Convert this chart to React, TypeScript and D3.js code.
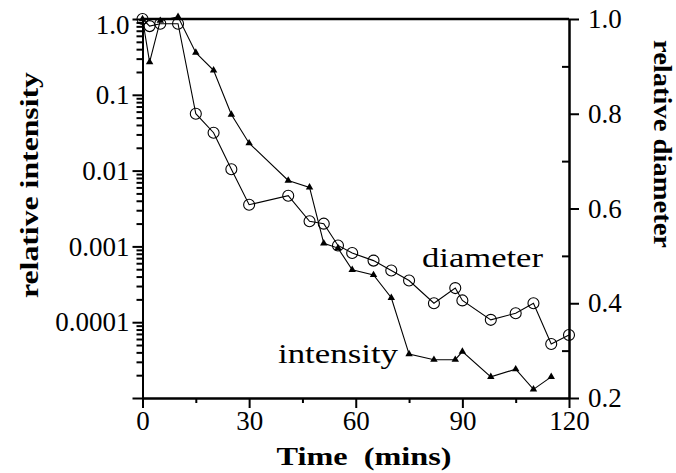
import React, { useRef, useEffect } from "react";
import { select, scaleLinear, scaleLog, axisLeft, axisRight, axisBottom, line, symbol, symbolTriangle } from "d3";

// time points (mins)
const timeI = [0, 2, 5, 10, 15, 20, 25, 30, 41, 47, 51, 55, 59, 65, 70, 75, 82, 88, 90, 98, 105, 110, 115];
const intensity = [1.0, 0.27, 0.95, 1.07, 0.36, 0.21, 0.055, 0.023, 0.0074, 0.006, 0.0011, 0.00095, 0.00049, 0.00042, 0.00021,
  0.000038, 0.000032, 0.000032, 0.000041, 0.000019, 0.000024, 0.000013, 0.000019];

const timeD = [0, 2, 5, 10, 15, 20, 25, 30, 41, 47, 51, 55, 59, 65, 70, 75, 82, 88, 90, 98, 105, 110, 115, 120];
const diameter = [1.0, 0.985, 0.99, 0.99, 0.8, 0.76, 0.683, 0.608, 0.627, 0.573, 0.568, 0.522, 0.506, 0.49, 0.469, 0.448,
  0.4, 0.432, 0.406, 0.365, 0.379, 0.4, 0.314, 0.333];

const xTicks = [0, 30, 60, 90, 120];
const xMinor = [15, 45, 75, 105];
const logTicks = [1e-5, 1e-4, 1e-3, 1e-2, 1e-1, 1];
const logLabels = ["", "0.0001", "0.001", "0.01", "0.1", "1.0"];
const dTicks = [0.2, 0.4, 0.6, 0.8, 1.0];
const dMinor = [0.3, 0.5, 0.7, 0.9];

const W = 676, H = 473;
const left = 142.5, right = 569, top = 19, bottom = 398;
const serif = "'Liberation Serif', 'Times New Roman', serif";

export default function App() {
  const svgRef = useRef<SVGSVGElement>(null);

  useEffect(() => {
    const svg = select(svgRef.current);
    svg.selectAll("*").remove();

    const x = scaleLinear().domain([0, 120]).range([left, right]);
    const yI = scaleLog().domain([1e-5, 1]).range([bottom, top]);
    const yD = scaleLinear().domain([0.2, 1]).range([bottom, top]);

    const logMinor: number[] = [];
    for (let e = -5; e < 0; e++) for (let m = 2; m <= 9; m++) logMinor.push(m * Math.pow(10, e));

    const styleAxis = (g: any) => {
      g.selectAll("path").attr("stroke", "#000").attr("stroke-width", 2);
      g.selectAll("line").attr("stroke", "#000").attr("stroke-width", 2);
      g.selectAll("text").attr("font-family", serif).attr("font-size", 27).attr("fill", "#000");
    };

    // left log axis
    svg.append("g").attr("transform", `translate(${left},0)`)
      .call(axisLeft(yI).tickValues(logMinor).tickSize(6).tickSizeOuter(0).tickFormat(() => ""))
      .call(styleAxis);
    svg.append("g").attr("transform", `translate(${left},0)`)
      .call(axisLeft(yI).tickValues(logTicks).tickSize(10).tickSizeOuter(0).tickPadding(3)
        .tickFormat((d, i) => logLabels[i]))
      .call(styleAxis)
      .selectAll("text").attr("dy", (d: any) => (d === 1 ? "0.55em" : "0.32em"));

    // right linear axis
    svg.append("g").attr("transform", `translate(${right},0)`)
      .call(axisRight(yD).tickValues(dMinor).tickSize(-7).tickSizeOuter(0).tickFormat(() => ""))
      .call(styleAxis);
    svg.append("g").attr("transform", `translate(${right},0)`)
      .call(axisRight(yD).tickValues(dTicks).tickSize(10).tickSizeOuter(0).tickPadding(9)
        .tickFormat((d: any) => d.toFixed(1)))
      .call(styleAxis);

    // bottom axis
    svg.append("g").attr("transform", `translate(0,${bottom})`)
      .call(axisBottom(x).tickValues(xMinor).tickSize(5).tickSizeOuter(0).tickFormat(() => ""))
      .call(styleAxis);
    svg.append("g").attr("transform", `translate(0,${bottom})`)
      .call(axisBottom(x).tickValues(xTicks).tickSize(10).tickSizeOuter(0).tickPadding(3))
      .call(styleAxis);

    // top border
    svg.append("line").attr("x1", left).attr("x2", right).attr("y1", top).attr("y2", top)
      .attr("stroke", "#000").attr("stroke-width", 2.5);

    // intensity series
    const iData = timeI.map((t, i) => [t, intensity[i]]);
    svg.append("path").datum(iData)
      .attr("fill", "none").attr("stroke", "#000").attr("stroke-width", 1.1)
      .attr("d", line<number[]>().x(d => x(d[0])).y(d => yI(d[1])));
    svg.selectAll(".tri").data(iData).join("path").attr("class", "tri")
      .attr("transform", d => `translate(${x(d[0])},${yI(d[1])})`)
      .attr("d", symbol().type(symbolTriangle).size(24)())
      .attr("fill", "#000");

    // diameter series
    const dData = timeD.map((t, i) => [t, diameter[i]]);
    svg.append("path").datum(dData)
      .attr("fill", "none").attr("stroke", "#000").attr("stroke-width", 1.1)
      .attr("d", line<number[]>().x(d => x(d[0])).y(d => yD(d[1])));
    svg.selectAll(".circ").data(dData).join("circle").attr("class", "circ")
      .attr("cx", d => x(d[0])).attr("cy", d => yD(d[1])).attr("r", 5.5)
      .attr("fill", "none").attr("stroke", "#000").attr("stroke-width", 1.1);

    // annotations
    svg.append("text").attr("x", 422).attr("y", 267).attr("font-family", serif).attr("font-size", 28)
      .attr("textLength", 121).attr("lengthAdjust", "spacingAndGlyphs").text("diameter");
    svg.append("text").attr("x", 278).attr("y", 363).attr("font-family", serif).attr("font-size", 28)
      .attr("textLength", 120).attr("lengthAdjust", "spacingAndGlyphs").text("intensity");

    // axis titles
    svg.append("text").attr("transform", "translate(38,185) rotate(-90)").attr("text-anchor", "middle")
      .attr("font-family", serif).attr("font-weight", "bold").attr("font-size", 26)
      .attr("textLength", 226).attr("lengthAdjust", "spacingAndGlyphs").text("relative intensity");
    svg.append("text").attr("transform", "translate(654,144) rotate(90)").attr("text-anchor", "middle")
      .attr("font-family", serif).attr("font-weight", "bold").attr("font-size", 26)
      .attr("textLength", 208).attr("lengthAdjust", "spacingAndGlyphs").text("relative diameter");
    svg.append("text").attr("x", 364).attr("y", 465).attr("text-anchor", "middle")
      .attr("font-family", serif).attr("font-weight", "bold").attr("font-size", 26)
      .style("white-space", "pre")
      .attr("textLength", 175).attr("lengthAdjust", "spacingAndGlyphs").text("Time  (mins)");
  }, []);

  return (
    <svg ref={svgRef} width={W} height={H}
      style={{ position: "absolute", left: 0, top: 0, background: "#fff" }} />
  );
}
